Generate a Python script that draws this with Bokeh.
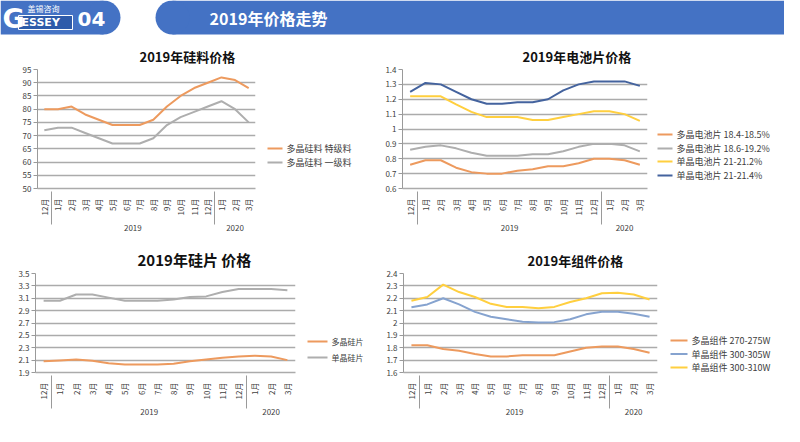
import math
from bokeh.plotting import figure
from bokeh.layouts import column, row
from bokeh.models import FactorRange, Range1d, FixedTicker, NumeralTickFormatter
from bokeh.core.properties import value
from bokeh.embed import file_html
from bokeh.resources import INLINE

# ---------------- data ----------------
month_labels = ["12月", "1月", "2月", "3月", "4月", "5月", "6月", "7月", "8月", "9月",
                "10月", "11月", "12月", "1月", "2月", "3月"]
year_labels = [" "] + ["2019"] * 12 + ["2020"] * 3

header_logo_cn = "盖锡咨询"
header_logo_g = "G"
header_logo_rest = "ESSEY"
header_number = "04"
header_title = "2019年价格走势"

silicon_title = "2019年硅料价格"
silicon_names = ["多晶硅料 特级料", "多晶硅料 一级料"]
silicon_special = [80, 80, 81, 78, 76, 74, 74, 74, 76, 81, 85, 88, 90, 92, 91, 88]
silicon_first = [72, 73, 73, 71, 69, 67, 67, 67, 69, 74, 77, 79, 81, 83, 80, 75]
silicon_ticks = [50, 55, 60, 65, 70, 75, 80, 85, 90, 95]

cell_title = "2019年电池片价格"
cell_names = ["多晶电池片 18.4-18.5%", "多晶电池片 18.6-19.2%", "单晶电池片 21-21.2%", "单晶电池片 21-21.4%"]
cell_poly_low = [0.76, 0.79, 0.79, 0.74, 0.71, 0.70, 0.70, 0.72, 0.73, 0.75, 0.75, 0.77, 0.80, 0.80, 0.79, 0.76]
cell_poly_high = [0.86, 0.88, 0.89, 0.87, 0.84, 0.82, 0.82, 0.82, 0.83, 0.83, 0.85, 0.88, 0.90, 0.90, 0.89, 0.85]
cell_mono_low = [1.22, 1.22, 1.22, 1.165, 1.115, 1.08, 1.08, 1.08, 1.06, 1.06, 1.08, 1.10, 1.12, 1.12, 1.10, 1.055]
cell_mono_high = [1.25, 1.31, 1.30, 1.25, 1.20, 1.17, 1.17, 1.18, 1.18, 1.20, 1.26, 1.30, 1.32, 1.32, 1.32, 1.29]
cell_ticks = [0.6, 0.7, 0.8, 0.9, 1.0, 1.1, 1.2, 1.3, 1.4]

wafer_title = "2019年硅片 价格"
wafer_names = ["多晶硅片", "单晶硅片"]
wafer_poly = [2.08, 2.095, 2.11, 2.09, 2.05, 2.03, 2.03, 2.03, 2.04, 2.08, 2.11, 2.14, 2.16, 2.17, 2.16, 2.10]
wafer_mono = [3.06, 3.06, 3.16, 3.16, 3.11, 3.06, 3.06, 3.06, 3.08, 3.12, 3.13, 3.20, 3.25, 3.25, 3.25, 3.23]
wafer_ticks = [1.9, 2.1, 2.3, 2.5, 2.7, 2.9, 3.1, 3.3, 3.5]

module_title = "2019年组件价格"
module_names = ["多晶组件 270-275W", "单晶组件 300-305W", "单晶组件 300-310W"]
module_poly = [1.82, 1.82, 1.79, 1.775, 1.75, 1.73, 1.73, 1.74, 1.74, 1.74, 1.77, 1.80, 1.81, 1.81, 1.79, 1.76]
module_mono_305 = [2.127, 2.15, 2.20, 2.15, 2.09, 2.05, 2.03, 2.01, 2.005, 2.007, 2.03, 2.07, 2.09, 2.09, 2.075, 2.05]
module_mono_310 = [2.18, 2.21, 2.31, 2.25, 2.21, 2.155, 2.13, 2.13, 2.12, 2.13, 2.17, 2.20, 2.24, 2.245, 2.23, 2.19]
module_ticks = [1.6, 1.7, 1.8, 1.9, 2.0, 2.1, 2.2, 2.3, 2.4]

# ---------------- style ----------------
FONT = "Noto Sans CJK SC"
BLUE = "#4472C4"
ORANGE = "#ED9A5E"
GRAY = "#AEAEAE"
YELLOW = "#FFCF3F"
NAVY = "#44639E"
LIGHTBLUE = "#86A3CF"
GRID = "#ABABAB"
TEXT = "#404040"

factors = list(zip(year_labels, month_labels))


def make_chart(title, series, ticks, fmt, width, height, borders, title_offset, title_size):
    left, right, top, bottom = borders
    p = figure(width=width, height=height, output_backend="svg", toolbar_location=None,
               x_range=FactorRange(*factors, group_padding=0, factor_padding=0, range_padding=0),
               y_range=Range1d(ticks[0], ticks[-1]),
               min_border_left=left, min_border_right=right, min_border_top=top, min_border_bottom=bottom)
    p.title.text = title
    p.title.align = "left"
    p.title.offset = title_offset
    p.title.text_font = FONT
    p.title.text_font_size = title_size
    p.title.text_font_style = "bold"
    p.title.text_color = "#111111"
    p.title.standoff = 8
    p.outline_line_color = None
    p.xgrid.grid_line_color = None
    p.ygrid.grid_line_color = GRID
    p.ygrid.grid_line_width = 1.5
    p.yaxis.ticker = FixedTicker(ticks=ticks)
    p.yaxis.formatter = NumeralTickFormatter(format=fmt)
    p.yaxis.axis_line_color = "#9A9A9A"
    p.yaxis.major_tick_line_color = "#9A9A9A"
    p.yaxis.major_tick_out = 4
    p.yaxis.major_tick_in = 0
    p.yaxis.minor_tick_line_color = None
    p.yaxis.major_label_standoff = 2
    p.yaxis.major_label_text_font = FONT
    p.yaxis.major_label_text_font_size = "8px"
    p.yaxis.major_label_text_color = TEXT
    p.xaxis.axis_line_color = GRID
    p.xaxis.axis_line_width = 1.5
    p.xaxis.major_tick_line_color = None
    p.xaxis.major_label_orientation = math.pi / 2
    p.xaxis.major_label_text_font = FONT
    p.xaxis.major_label_text_font_size = "8px"
    p.xaxis.major_label_text_color = TEXT
    p.xaxis.major_label_standoff = 4
    p.xaxis.group_text_font = FONT
    p.xaxis.group_text_font_size = "8px"
    p.xaxis.group_text_color = TEXT
    p.xaxis.group_text_font_style = "normal"
    p.xaxis.separator_line_color = "#9A9A9A"
    p.xaxis.separator_line_width = 1
    for vals, name, color in series:
        p.line(x=factors, y=vals, line_color=color, line_width=2)
    return p


def make_legend(names, colors, width, height, frame_h, x0, ys, font_size, line_len):
    # the row aligns this figure's frame with the chart frame beside it,
    # so the y range spans the chart frame's pixel height (1 unit = 1 px)
    q = figure(width=width, height=height, output_backend="svg", toolbar_location=None,
               x_range=Range1d(0, width), y_range=Range1d(0, frame_h), min_border=0)
    q.axis.visible = False
    q.grid.visible = False
    q.outline_line_color = None
    n = len(names)
    q.segment(x0=[x0] * n, x1=[x0 + line_len] * n, y0=ys, y1=ys, line_color=colors, line_width=2)
    q.text(x=[x0 + line_len + 4] * n, y=ys, text=names, text_font=value(FONT), text_font_size=font_size,
           text_color=TEXT, text_baseline="middle", text_align="left")
    return q


TOP_FRAME_H = 119
BOTTOM_FRAME_H = 99

c1 = make_chart(silicon_title,
                [(silicon_special, silicon_names[0], ORANGE), (silicon_first, silicon_names[1], GRAY)],
                silicon_ticks, "0", 260, 200, (37, 5, 33, 44), 102, "13px")
l1 = make_legend(silicon_names, [ORANGE, GRAY], 122, 200, TOP_FRAME_H, 7, [40, 26], "9px", 15)

c2 = make_chart(cell_title,
                [(cell_poly_low, cell_names[0], ORANGE), (cell_poly_high, cell_names[1], GRAY),
                 (cell_mono_low, cell_names[2], YELLOW), (cell_mono_high, cell_names[3], NAVY)],
                cell_ticks, "0.[0]", 270, 200, (20, 5, 32, 45), 120, "13px")
l2 = make_legend(cell_names, [ORANGE, GRAY, YELLOW, NAVY], 132, 200, TOP_FRAME_H, 5,
                 [54, 40, 27, 13], "9px", 15)

c3 = make_chart(wafer_title,
                [(wafer_poly, wafer_names[0], ORANGE), (wafer_mono, wafer_names[1], GRAY)],
                wafer_ticks, "0.0", 300, 184, (35, 5, 33, 37), 102, "15px")
l3 = make_legend(wafer_names, [ORANGE, GRAY], 82, 184, BOTTOM_FRAME_H, 7, [31, 15], "8px", 20)

c4 = make_chart(module_title,
                [(module_poly, module_names[0], ORANGE), (module_mono_305, module_names[1], LIGHTBLUE),
                 (module_mono_310, module_names[2], YELLOW)],
                module_ticks, "0.[0]", 280, 184, (21, 5, 37, 37), 124, "13px")
l4 = make_legend(module_names, [ORANGE, LIGHTBLUE, YELLOW], 122, 184, BOTTOM_FRAME_H, 8,
                 [32, 18.5, 5], "9px", 17)

# ---------------- header ----------------
HW, HH = 784, 36
h = figure(width=HW, height=HH, output_backend="svg", toolbar_location=None,
           x_range=Range1d(0, HW), y_range=Range1d(0, HH), min_border=0)
h.axis.visible = False
h.grid.visible = False
h.outline_line_color = None
h.quad(left=[0], right=[103], bottom=[2], top=[36], fill_color=BLUE, line_color=None)
h.circle(x=[103], y=[19], radius=17, fill_color=BLUE, line_color=None)
h.quad(left=[18], right=[72], bottom=[7], top=[21], fill_color="#2E5BAA", line_color="white", line_width=1)
h.text(x=[2], y=[18], text=[header_logo_g], text_font=value("DejaVu Sans"), text_font_size="27px",
       text_font_style="bold", text_color="white", text_baseline="middle")
h.text(x=[21], y=[14], text=[header_logo_rest], text_font=value("DejaVu Sans"), text_font_size="11px",
       text_font_style="bold", text_color="white", text_baseline="middle")
h.text(x=[27], y=[28], text=[header_logo_cn], text_font=value(FONT), text_font_size="8px",
       text_color="white", text_baseline="middle")
h.text(x=[77], y=[18], text=[header_number], text_font=value("DejaVu Sans"), text_font_size="20px",
       text_font_style="bold", text_color="white", text_baseline="middle")
h.quad(left=[172], right=[HW], bottom=[2], top=[36], fill_color=BLUE, line_color=None)
h.circle(x=[172], y=[19], radius=17, fill_color=BLUE, line_color=None)
h.text(x=[268], y=[19], text=[header_title], text_font=value(FONT), text_font_size="16px",
       text_font_style="bold", text_color="white", text_align="center", text_baseline="middle")

# ---------------- footer ----------------
f = figure(width=HW, height=6, output_backend="svg", toolbar_location=None,
           x_range=Range1d(0, 1), y_range=Range1d(0, 1), min_border=0)
f.axis.visible = False
f.grid.visible = False
f.outline_line_color = None
f.quad(left=[0], right=[1], bottom=[0], top=[1], fill_color=BLUE, line_color=None)

layout = column(h, row(c1, l1, c2, l2, spacing=0), row(c3, l3, c4, l4, spacing=0), f, spacing=0)

with open("out.html", "w") as fh:
    fh.write(file_html(layout, INLINE))
